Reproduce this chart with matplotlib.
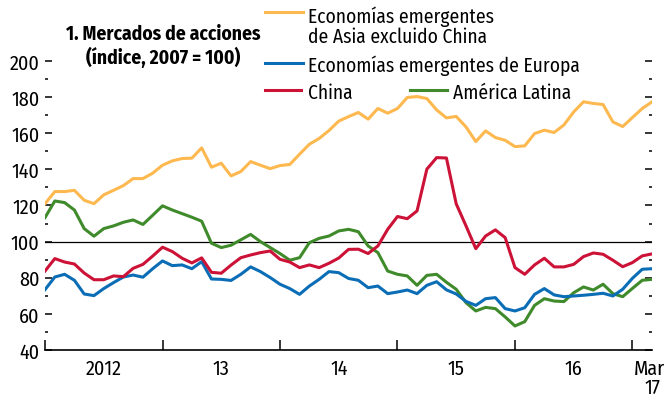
import numpy as np
import matplotlib
matplotlib.use("Agg")
import matplotlib.pyplot as plt
from matplotlib.lines import Line2D

plt.rcParams['font.family'] = ['Fira Sans Condensed', 'Liberation Sans', 'DejaVu Sans']

# monthly, Jan 2012 .. Mar 2017
asia = [121, 127.7, 127.7, 128.4, 122.9, 121, 125.9, 128.4, 131, 134.9,
        134.9, 137.9, 142.3, 144.7, 146, 146.2, 151.9, 141.2, 143.4, 136.4,
        138.8, 144.3, 142.3, 140.4, 142.1, 142.7, 148.4, 153.9, 157.1, 161.5,
        166.7, 169.2, 171.5, 167.8, 173.7, 171.1, 173.7, 179.8, 180.3, 179.2,
        172.9, 168.5, 169.3, 163.5, 155.4, 161.3, 157.6, 156.1, 152.6, 153,
        159.8, 161.7, 160.4, 164.6, 171.8, 177.4, 176.5, 175.9, 166.3, 163.7,
        168.7, 173.7, 177.4]
europa = [73.4, 80.4, 81.9, 78.6, 71, 70.1, 74, 77.3, 80.4, 81.5,
          80.3, 85, 89.3, 86.7, 87.1, 85, 88.9, 79.3, 79.1, 78.5,
          81.9, 86, 83.4, 80.1, 76.4, 74, 70.8, 75.4, 79.1, 83.4,
          82.8, 79.6, 78.6, 74.5, 75.4, 71.2, 72.1, 73.2, 71.2, 75.8,
          77.8, 73.3, 71, 66.9, 64.7, 68.4, 69, 62.9, 61.6, 63.4,
          70.8, 74, 70.5, 69.5, 69.9, 70.3, 70.8, 71.4, 69.9, 73.6,
          79.7, 84.7, 85]
china = [83.7, 90.6, 88.7, 87.6, 82.6, 78.9, 78.9, 81, 80.6, 85.2,
         87.4, 92, 96.9, 94.5, 90.8, 88.2, 91, 83, 82.5, 87,
         91.1, 92.6, 93.9, 94.8, 90.2, 88.7, 85.6, 87.1, 85.6, 88,
         90.9, 95.7, 95.8, 93.4, 97.6, 106.8, 113.9, 112.7, 117, 140.1,
         146.5, 146.3, 120.9, 108.7, 96.1, 103.1, 106.5, 102.2, 85.6, 81.9,
         87.1, 90.8, 86, 86, 87.4, 91.7, 93.7, 93, 89.7, 86.1,
         88.4, 92.1, 93.2]
latam = [113.3, 122.5, 121.6, 117.5, 107.2, 103, 107.2, 108.7, 110.7, 112,
         109.5, 114.6, 119.8, 117.5, 115.5, 113.5, 111.3, 99.1, 96.7, 98,
         101, 104, 100, 96.7, 93.4, 89.7, 91.1, 99.4, 101.8, 103.1,
         105.9, 106.8, 105.5, 97.6, 93.9, 83.7, 81.9, 81, 75.8, 81.3,
         81.9, 77.5, 73.6, 66.2, 61.6, 63.6, 62.9, 58.3, 53.3, 55.7,
         64.7, 68.4, 67.1, 66.8, 71.7, 74.9, 73.2, 76.4, 71.2, 69.5,
         74.1, 78.6, 79.1]

year_labels = ['2012', '13', '14', '15', '16']
last_label = 'Mar.\n17'

c_asia = '#fdb94f'
c_eur = '#0a6db6'
c_chn = '#cc1236'
c_lat = '#3f8a2b'

x = np.arange(len(asia))

fig = plt.figure(figsize=(6.65, 4.02), dpi=100)
ax = fig.add_axes([0.0677, 0.1269, 0.9128, 0.7189])

ax.axhline(100, color='black', lw=0.9, zorder=1)
lw = 2.2
ax.plot(x, asia, color=c_asia, lw=lw, zorder=3)
ax.plot(x, latam, color=c_lat, lw=lw, zorder=3)
ax.plot(x, china, color=c_chn, lw=lw, zorder=4)
ax.plot(x, europa, color=c_eur, lw=lw, zorder=3)

ax.set_xlim(0, len(asia) - 1)
ax.set_ylim(40, 200)

for s in ['left', 'right', 'top']:
    ax.spines[s].set_visible(False)
ax.spines['bottom'].set_linewidth(1.2)

fs = 14

ax.set_yticks(np.arange(40, 201, 20))
ax.set_yticks(np.arange(50, 200, 20), minor=True)
ax.tick_params(axis='y', which='major', left=True, right=True, direction='in',
               length=5, width=1.1, labelsize=fs + 0.5, pad=4)
ax.tick_params(axis='y', which='minor', left=True, right=True, direction='in',
               length=2, width=1.1)

ax.set_xticks([0, 12, 24, 36, 48, 60])
ax.set_xticklabels([''] * 6)
ax.set_xticks([6, 18, 30, 42, 54, 62], minor=True)
ax.set_xticklabels(year_labels + [last_label], minor=True)
ax.tick_params(axis='x', which='major', direction='in', length=7, width=1.1)
ax.tick_params(axis='x', which='minor', length=0, labelsize=fs + 0.5, pad=6)
for lab in ax.get_xticklabels(minor=True):
    lab.set_verticalalignment('top')
    lab.set_linespacing(1.0)

fig.text(163 / 665, 1 - 46 / 402, '1. Mercados de acciones\n(índice, 2007 = 100)',
         ha='center', va='center', fontsize=fs, fontweight='bold', linespacing=1.15)

# legend
W, H = 665.0, 402.0
def swatch(x0, x1, y, color):
    fig.add_artist(Line2D([x0 / W, x1 / W], [1 - y / H, 1 - y / H], color=color,
                          lw=lw, transform=fig.transFigure))

swatch(265, 303, 13, c_asia)
fig.text(308 / W, 1 - 27 / H, 'Economías emergentes\nde Asia excluido China',
         ha='left', va='center', fontsize=fs, linespacing=1.0)
swatch(265, 303, 64, c_eur)
fig.text(308 / W, 1 - 66 / H, 'Economías emergentes de Europa',
         ha='left', va='center', fontsize=fs)
swatch(265, 301, 91, c_chn)
fig.text(308 / W, 1 - 93 / H, 'China', ha='left', va='center', fontsize=fs)
swatch(410, 447, 91, c_lat)
fig.text(453 / W, 1 - 93 / H, 'América Latina', ha='left', va='center', fontsize=fs)

fig.savefig('out.png', dpi=100)
